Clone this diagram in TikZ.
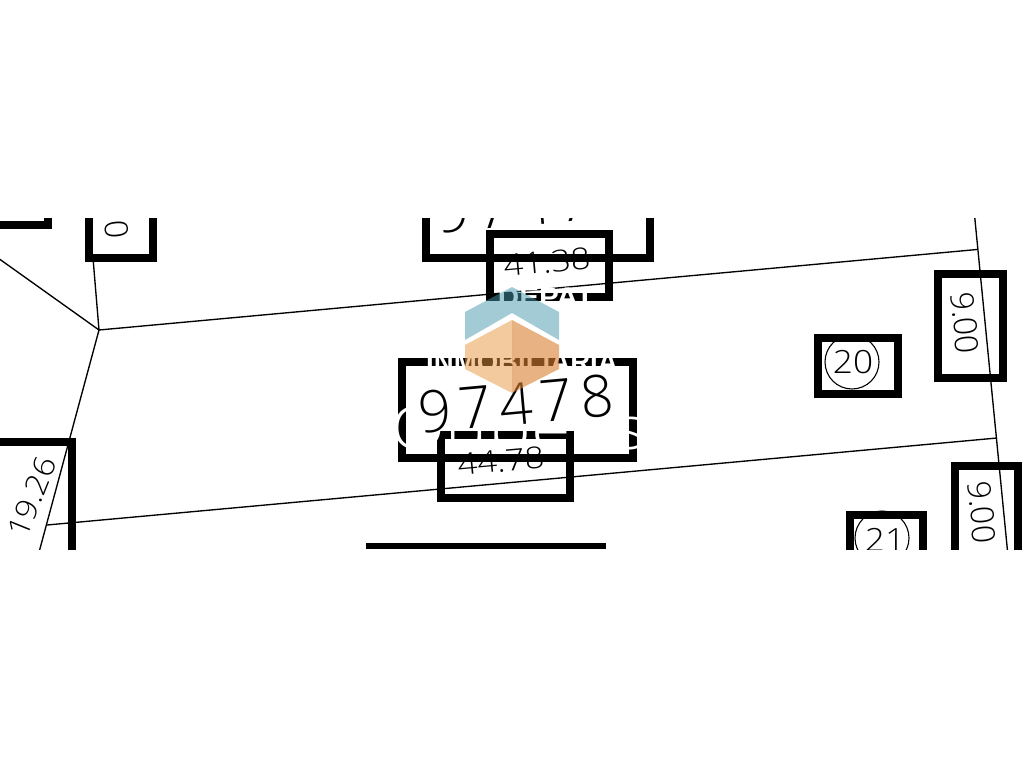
\documentclass[tikz,border=0pt]{standalone}
\usepackage{fontspec}
\setmainfont{Open Sans Light}
\newfontfamily\wmfont{Liberation Sans}
\newfontfamily\spacedfont[LetterSpace=13]{Open Sans Light}
\usetikzlibrary{calc}
\definecolor{hexblue}{RGB}{71,153,173}
\definecolor{hexorangeL}{RGB}{232,150,62}
\definecolor{hexorangeR}{RGB}{218,128,48}
\tikzset{
  heavy/.style={draw=black,line width=8.5pt,miter limit=10},
  thin line/.style={draw=black,line width=1.35pt},
  cad/.style={inner sep=0pt,text=black},
  mark9/.style={cad,font=\fontsize{32}{32}\selectfont},
  ring/.style={draw=black,circle,line width=1.1pt,minimum size=54pt,inner sep=0pt},
  knock/.style={inner sep=0pt,text=white},
}
\begin{document}
\begin{tikzpicture}[x=1pt,y=-1pt]
\useasboundingbox (0,0) rectangle (1024,768);
\fill[white] (0,0) rectangle (1024,768);
\begin{scope}
\clip (0,218) rectangle (1024,549);
% parcel lines
\coordinate (pA) at (99,330);
\coordinate (pB) at (977,249.5);
\coordinate (pC) at (47,525);
\coordinate (pD) at (997,438);
\coordinate (pE) at (974,210);
\coordinate (pF) at (1008,556);
\coordinate (pG) at (-2,258);
\coordinate (pH) at (93,258);
\coordinate (pI) at (38,556);
\draw[thin line] (pA) -- (pB);
\draw[thin line] (pC) -- (pD);
\draw[thin line] (pE) -- (pF);
\draw[thin line] (pG) -- (pA);
\draw[thin line] (pH) -- (pA);
\draw[thin line] (pA) -- (pI);
\node[ring] (c20) at (852,362) {};
\node[ring] (c21) at (882,538) {};
% heavy frames
\draw[heavy] (-10,225) -- (48,225) -- (48,210);
\draw[heavy] (89,210) -- (89,258) -- (153,258) -- (153,210);
\draw[heavy] (426,210) -- (426,258) -- (650,258) -- (650,210);
\draw[heavy] (490,234) rectangle (609,297);
\draw[heavy] (402,362) rectangle (633,458);
\draw[heavy] (441,435) rectangle (570,498);
\draw[heavy] (818,338) rectangle (898,394);
\draw[heavy] (938,274) rectangle (1003,378);
\draw[heavy] (955,560) -- (955,466) -- (1018,466) -- (1018,560);
\draw[heavy] (850,560) -- (850,515) -- (923,515) -- (923,560);
\draw[heavy] (-10,442) -- (72,442) -- (72,560);
\draw[black,line width=6pt] (366,546) -- (606,546);
% watermark lettering, white over the frames
\node[knock,font=\wmfont\bfseries\fontsize{27}{27}\selectfont] (wTop) at (546,297) {\scalebox{1.1}[1]{DEPAT}};
\node[knock,font=\wmfont\bfseries\fontsize{30}{30}\selectfont] (wMid) at (522,362) {\scalebox{.92}[1]{INMOBILIARIA}};
\begin{scope}
\clip (380,400) rectangle (660,452);
\node[knock,anchor=base,font=\fontsize{60}{60}\selectfont] (wLow) at (519,449) {\scalebox{1.2}[1]{Qubeps}};
\end{scope}
% labels
\node[cad,rotate=5.2,font=\spacedfont\fontsize{58}{58}\selectfont] (tTop) at (534,204) {97477};
\node[cad,rotate=5.2,font=\spacedfont\fontsize{58}{58}\selectfont] (tBig) at (516,404) {97478};
\node[cad,rotate=5.2,font=\fontsize{30}{30}\selectfont] (t41) at (547,262) {\scalebox{1.15}[1]{41.38}};
\node[cad,rotate=5.2,font=\fontsize{30}{30}\selectfont] (t44) at (501,461) {\scalebox{1.15}[1]{44.78}};
\node[mark9,rotate=-84.5] (t9a) at (965,323) {9.00};
\node[mark9,rotate=-84.5] (t9b) at (982,512) {9.00};
\node[mark9,rotate=-84.5] (t0) at (117,229) {0};
\node[cad,rotate=68,font=\fontsize{30}{30}\selectfont] (t19) at (32,497) {\scalebox{1.1}[1]{19.26}};
\node[cad,font=\fontsize{32}{32}\selectfont] (t20) at (853,362) {\scalebox{1.1}[1]{20}};
\node[cad,font=\fontsize{32}{32}\selectfont] (t21) at (885,540) {\scalebox{1.1}[1]{21}};
\end{scope}
% logo
\fill[hexblue,opacity=.5] (512,287) -- (559,312) -- (559,340) -- (512,313) -- (465,340) -- (465,312) -- cycle;
\fill[hexorangeL,opacity=.5] (512,320) -- (512,393) -- (465,369) -- (465,345) -- cycle;
\fill[hexorangeR,opacity=.6] (512,320) -- (559,345) -- (559,369) -- (512,393) -- cycle;
\end{tikzpicture}
\end{document}
